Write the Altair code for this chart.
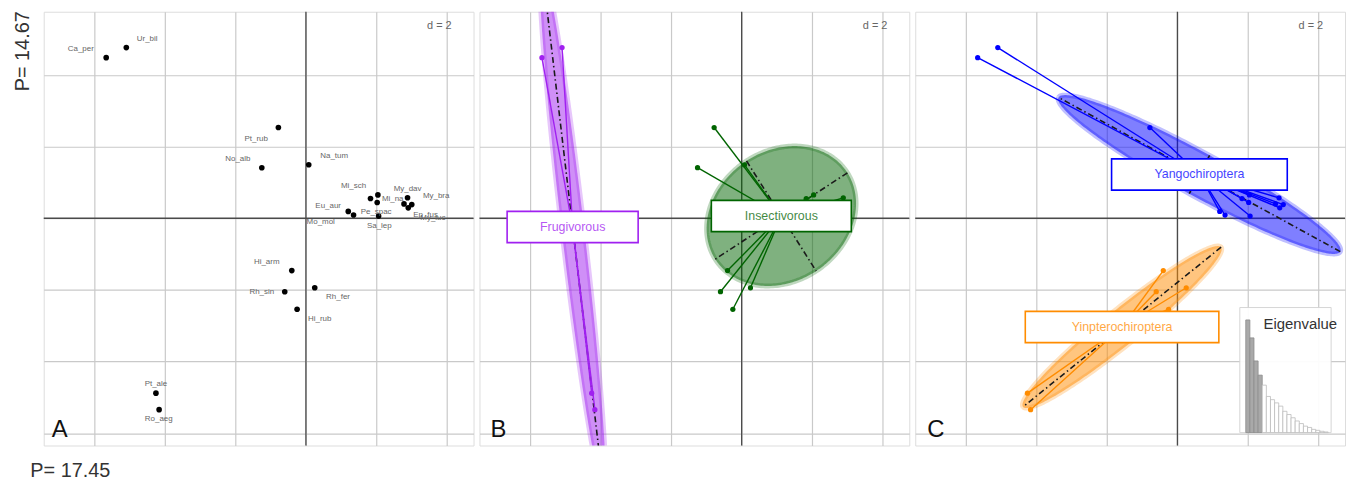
import numpy as np
import pandas as pd
import altair as alt

# ---------------- data ----------------
species = ["Ca_per", "Ur_bil", "Pt_rub", "No_alb", "Na_tum", "Mi_sch", "Mi_na",
           "Pe_spac", "My_dav", "My_bra", "Ep_fus", "My_luc", "Eu_aur", "Mo_mol",
           "Sa_lep", "Hi_arm", "Rh_sin", "Rh_fer", "Hi_rub", "Pt_ale", "Ro_aeg"]
pc1 = [-5.66, -5.09, -0.78, -1.25, 0.08, 1.83, 2.02, 2.04, 2.88, 3.00, 2.90,
       2.78, 1.20, 1.35, 2.06, -0.40, -0.60, 0.25, -0.25, -4.25, -4.16]
pc2 = [4.48, 4.76, 2.53, 1.41, 1.49, 0.55, 0.44, 0.65, 0.57, 0.38, 0.29,
       0.40, 0.19, 0.09, 0.06, -1.46, -2.05, -1.94, -2.54, -4.88, -5.34]
label_x = [-6.38, -4.50, -1.41, -1.93, 0.80, 1.35, 2.46, 1.99, 2.88, 3.69, 3.39,
           3.60, 0.63, 0.42, 2.08, -1.11, -1.25, 0.91, 0.39, -4.25, -4.17]
label_y = [4.72, 4.99, 2.22, 1.65, 1.73, 0.89, 0.53, 0.17, 0.81, 0.63, 0.10,
           0.01, 0.35, -0.10, -0.22, -1.21, -2.06, -2.21, -2.81, -4.62, -5.61]
diet = ["Frugivorous", "Frugivorous"] + ["Insectivorous"] * 17 + ["Frugivorous", "Frugivorous"]
clade = ["Yangochiroptera"] * 15 + ["Yinpterochiroptera"] * 6
eigenvalues = [17.45, 14.67, 11.1, 8.9, 7.35, 5.6, 5.1, 4.6, 4.1, 3.3,
               2.8, 2.3, 1.8, 1.4, 1.0, 0.8, 0.5, 0.35, 0.2, 0.1]
grid_values = [-6, -4, -2, 0, 2, 4]

diet_colors = {"Frugivorous": "#A020F0", "Insectivorous": "#006400"}
clade_colors = {"Yangochiroptera": "#0000FF", "Yinpterochiroptera": "#FF8C00"}
box_width = {"Frugivorous": 132, "Insectivorous": 141,
             "Yangochiroptera": 177, "Yinpterochiroptera": 195}

df = pd.DataFrame({"sp": species, "x": pc1, "y": pc2, "lx": label_x, "ly": label_y,
                   "diet": diet, "clade": clade})

W, H = 433, 437
XS = alt.Scale(domain=[-7.43, 4.75], nice=False, zero=False)
YS = alt.Scale(domain=[-6.34, 5.76], nice=False, zero=False)
FONT = "Liberation Sans"


def axes(with_titles):
    common = dict(values=grid_values, grid=True, gridColor="#c9c9c9", gridWidth=1.2,
                  labels=False, ticks=False, domain=False)
    if with_titles:
        ax = alt.Axis(title="P= 17.45", titleX=-14, titleY=31, titleAlign="left",
                      titleBaseline="alphabetic", titleFontSize=20, titleFontWeight="normal",
                      titleColor="#333333", titleFont=FONT, **common)
        ay = alt.Axis(title="P= 14.67", titleAngle=270, titleX=-15, titleY=-1,
                      titleAlign="right", titleBaseline="alphabetic", titleFontSize=20,
                      titleFontWeight="normal", titleColor="#333333", titleFont=FONT, **common)
    else:
        ax = alt.Axis(title=None, **common)
        ay = alt.Axis(title=None, **common)
    return ax, ay


def ellipse_geom(xs, ys, coeff=1.5, n=240):
    xs = np.asarray(xs, float)
    ys = np.asarray(ys, float)
    mx, my = xs.mean(), ys.mean()
    cov = np.cov(np.vstack([xs, ys]), bias=True)
    vals, vecs = np.linalg.eigh(cov)
    l2, l1 = max(vals[0], 0.0), vals[1]
    v2, v1 = vecs[:, 0], vecs[:, 1]
    a, b = coeff * np.sqrt(l1), coeff * np.sqrt(l2)
    t = np.linspace(0, 2 * np.pi, n)
    ex = mx + a * np.cos(t) * v1[0] + b * np.sin(t) * v2[0]
    ey = my + a * np.cos(t) * v1[1] + b * np.sin(t) * v2[1]
    ell = pd.DataFrame({"x": ex, "y": ey, "o": np.arange(n)})
    ax_df = pd.DataFrame({
        "x": [mx - a * v1[0], mx - b * v2[0]], "y": [my - a * v1[1], my - b * v2[1]],
        "x2": [mx + a * v1[0], mx + b * v2[0]], "y2": [my + a * v1[1], my + b * v2[1]]})
    return mx, my, ell, ax_df


def base_layers(with_titles, letter, letter_x):
    ax, ay = axes(with_titles)
    zero = pd.DataFrame({"x": [0.0], "y": [0.0]})
    vline = alt.Chart(zero).mark_rule(color="#4a4a4a", strokeWidth=1.3).encode(
        x=alt.X("x:Q", scale=XS, axis=ax))
    hline = alt.Chart(zero).mark_rule(color="#4a4a4a", strokeWidth=1.3).encode(
        y=alt.Y("y:Q", scale=YS, axis=ay))
    one = pd.DataFrame({"a": [0]})
    d2 = alt.Chart(one).mark_text(text="d = 2", align="right", baseline="middle",
                                  fontSize=11, color="#666666", font=FONT).encode(
        x=alt.value(W - 22), y=alt.value(14))
    let = alt.Chart(one).mark_text(text=letter, align="left", baseline="alphabetic",
                                   fontSize=24, color="#111111", font=FONT).encode(
        x=alt.value(letter_x), y=alt.value(428))
    return [vline, hline], [d2, let], ax, ay


def class_panel(group_col, colors, letter, letter_x):
    under, over, ax, ay = base_layers(False, letter, letter_x)
    ells, axl, stars, pts, boxes, texts = [], [], [], [], [], []
    for g, col in colors.items():
        sub = df[df[group_col] == g]
        mx, my, ell, ax_df = ellipse_geom(sub["x"], sub["y"])
        ells.append(alt.Chart(ell).mark_line(fill=col, fillOpacity=0.5, stroke=col,
                                             strokeOpacity=0.25, strokeWidth=5,
                                             clip=True).encode(
            x=alt.X("x:Q", scale=XS, axis=ax), y=alt.Y("y:Q", scale=YS, axis=ay),
            order="o:Q"))
        axl.append(alt.Chart(ax_df).mark_rule(color="#1a1a1a", strokeWidth=1.6,
                                              strokeDash=[6, 3, 1.5, 3], clip=True).encode(
            x=alt.X("x:Q", scale=XS, axis=ax), y=alt.Y("y:Q", scale=YS, axis=ay),
            x2="x2:Q", y2="y2:Q"))
        sd = sub.assign(cx=mx, cy=my)
        stars.append(alt.Chart(sd).mark_rule(color=col, strokeWidth=1.4).encode(
            x=alt.X("x:Q", scale=XS, axis=ax), y=alt.Y("y:Q", scale=YS, axis=ay),
            x2="cx:Q", y2="cy:Q"))
        pts.append(alt.Chart(sd).mark_circle(size=28, color=col, opacity=1).encode(
            x=alt.X("x:Q", scale=XS, axis=ax), y=alt.Y("y:Q", scale=YS, axis=ay)))
        w = box_width[g]
        h = 31.5 / w
        path = f"M-1,-{h:.4f}L1,-{h:.4f}L1,{h:.4f}L-1,{h:.4f}Z"
        cdf = pd.DataFrame({"cx": [mx], "cy": [my], "g": [g]})
        boxes.append(alt.Chart(cdf).mark_point(shape=path, size=w * w, filled=True,
                                               fill="white", fillOpacity=1, stroke=col,
                                               strokeWidth=1.6, opacity=1).encode(
            x=alt.X("cx:Q", scale=XS, axis=ax), y=alt.Y("cy:Q", scale=YS, axis=ay)))
        texts.append(alt.Chart(cdf).mark_text(fontSize=12.5, color=col, opacity=0.75,
                                              font=FONT, baseline="middle").encode(
            x=alt.X("cx:Q", scale=XS, axis=ax), y=alt.Y("cy:Q", scale=YS, axis=ay),
            text="g:N"))
    return alt.layer(*(under + ells + axl + stars + pts + boxes + texts + over))


# ---------------- panel A ----------------
underA, overA, axA, ayA = base_layers(True, "A", 8)
ptsA = alt.Chart(df).mark_circle(size=32, color="black", opacity=1).encode(
    x=alt.X("x:Q", scale=XS, axis=axA), y=alt.Y("y:Q", scale=YS, axis=ayA))
labA = alt.Chart(df).mark_text(fontSize=8, color="#666666", font=FONT).encode(
    x=alt.X("lx:Q", scale=XS, axis=axA), y=alt.Y("ly:Q", scale=YS, axis=ayA),
    text="sp:N")
panelA = alt.layer(*(underA + [ptsA, labA] + overA)).properties(width=W, height=H)

# ---------------- panel B ----------------
panelB = class_panel("diet", diet_colors, "B", 11).properties(width=W, height=H)

# ---------------- panel C ----------------
mainC = class_panel("clade", clade_colors, "C", 12)
eig_df = pd.DataFrame({"k": np.arange(1, len(eigenvalues) + 1), "ev": eigenvalues})
one = pd.DataFrame({"a": [0]})
inset_bg = alt.Chart(one).mark_rect(fill="white", stroke="#d4d4d4", strokeWidth=1,
                                    opacity=0.95).encode(
    x=alt.value(327), x2=alt.value(419), y=alt.value(298), y2=alt.value(424))
inset_bars = alt.Chart(eig_df).mark_bar(strokeWidth=0.8).encode(
    x=alt.X("k:O", scale=alt.Scale(range=[333, 416], paddingInner=0, paddingOuter=0),
            axis=None),
    y=alt.Y("ev:Q", scale=alt.Scale(domain=[0, 17.45], range=[424, 310.5]), axis=None),
    fill=alt.condition("datum.k <= 4", alt.value("#a9a9a9"), alt.value("white")),
    stroke=alt.condition("datum.k <= 4", alt.value("#8c8c8c"), alt.value("#bcbcbc")))
inset_title = alt.Chart(one).mark_text(text="Eigenvalue", align="right", baseline="middle",
                                       fontSize=15, color="#333333", font=FONT).encode(
    x=alt.value(425), y=alt.value(315))
inset = alt.layer(inset_bg, inset_bars, inset_title)
panelC = alt.layer(mainC, inset).resolve_scale(x="independent", y="independent").properties(
    width=W, height=H)

chart = alt.hconcat(panelA, panelB, panelC, spacing=2).properties(
    padding={"left": 4, "top": 0, "right": 0, "bottom": 0}
).configure_view(stroke="#8c8c8c", strokeWidth=2).configure(font=FONT)

chart.save("out.html", embed_options={"renderer": "svg", "actions": False})
